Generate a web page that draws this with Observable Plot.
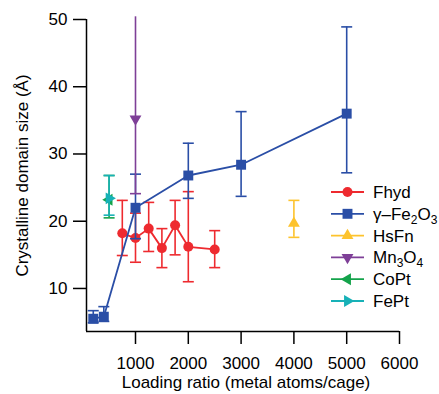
<!DOCTYPE html>
<html>
<head>
<meta charset="utf-8">
<script src="https://cdn.jsdelivr.net/npm/d3@7"></script>
<script src="https://cdn.jsdelivr.net/npm/@observablehq/plot@0.6"></script>
<style>
  html, body { margin: 0; padding: 0; background: #fff; }
  #wrap { position: relative; width: 439px; height: 394px; font-family: "Liberation Sans", Arial, Helvetica, sans-serif; }
  #legend { position: absolute; left: 0; top: 0; }
</style>
</head>
<body>
<div id="wrap"></div>
<script>
// ---- data ----
const fhydX  = [750, 1000, 1250, 1500, 1750, 2000, 2500];
const fhydY  = [18.2, 17.5, 18.9, 16.0, 19.4, 16.2, 15.8];
const fhydLo = [14.9, 13.9, 15.5, 13.1, 15.0, 11.0, 13.1];
const fhydHi = [23.1, 21.2, 22.8, 18.9, 23.1, 24.4, 18.6];

const feX  = [200, 400, 1000, 2000, 3000, 5000];
const feY  = [5.5, 5.8, 22.0, 26.8, 28.4, 36.0];
const feLo = [4.9, 5.1, 17.4, 23.4, 23.7, 27.2];
const feHi = [6.7, 7.3, 27.0, 31.6, 36.3, 48.9];

const hsX = [4000], hsY = [19.7], hsLo = [17.6], hsHi = [23.1];
const mnX = [1000], mnY = [35.2], mnLo = [24.1], mnHi = [50.4];
const coX = [500],  coY = [23.2], coLo = [20.5], coHi = [26.8];
const ptX = [500],  ptY = [23.4], ptLo = [20.9], ptHi = [26.8];

const xTicks = [1000, 2000, 3000, 4000, 5000, 6000];
const yTicks = [10, 20, 30, 40, 50];
const xDomain = [72, 6000];
const yDomain = [3.6, 50];

const seriesNames = ["Fhyd", "γ–Fe2O3", "HsFn", "Mn3O4", "CoPt", "FePt"];
const seriesColors = ["#ee2a2f", "#2a4ea6", "#fdc32d", "#7e3f97", "#14a34b", "#17b1b7"];
const seriesSymbols = ["circle", "square", "triangle", "triangle", "triangle", "triangle"];
const seriesRotate = [0, 0, 0, 180, -90, 90];
const seriesR = [5, 5.6, 4.4, 4.4, 4.4, 4.4];

// ---- build rows ----
function rows(xs, ys, lo, hi) { return xs.map((x, i) => ({x, y: ys[i], lo: lo[i], hi: hi[i]})); }
const sets = [
  rows(fhydX, fhydY, fhydLo, fhydHi),
  rows(feX, feY, feLo, feHi),
  rows(hsX, hsY, hsLo, hsHi),
  rows(mnX, mnY, mnLo, mnHi),
  rows(coX, coY, coLo, coHi),
  rows(ptX, ptY, ptLo, ptHi)
];

const capSymbol = { draw(ctx) { ctx.moveTo(-5.5, 0); ctx.lineTo(5.5, 0); } };
const font = '"Liberation Sans", Arial, Helvetica, sans-serif';
const FS = 17;

const marks = [];
sets.forEach((data, i) => {
  const color = seriesColors[i];
  const top = yDomain[1];
  marks.push(Plot.ruleX(data, {x: "x", y1: "lo", y2: "hi", stroke: color, strokeWidth: 1.6}));
  marks.push(Plot.dot(data, {x: "x", y: "lo", symbol: capSymbol, r: 3, stroke: color, fill: "none", strokeWidth: 1.6}));
  marks.push(Plot.dot(data.filter(d => d.hi <= top), {x: "x", y: "hi", symbol: capSymbol, r: 3, stroke: color, fill: "none", strokeWidth: 1.6}));
  if (data.length > 1) marks.push(Plot.line(data, {x: "x", y: "y", stroke: color, strokeWidth: 1.8}));
  marks.push(Plot.dot(data, {x: "x", y: "y", symbol: seriesSymbols[i], r: seriesR[i], rotate: seriesRotate[i], fill: color, stroke: "none"}));
});

const chart = Plot.plot({
  width: 439,
  height: 394,
  marginLeft: 86,
  marginRight: 40,
  marginTop: 19,
  marginBottom: 63,
  style: {fontFamily: font, fontSize: FS + "px", color: "#000", background: "#fff", overflow: "visible"},
  x: {domain: xDomain},
  y: {domain: yDomain},
  marks: [
    Plot.axisX({ticks: xTicks, tickSize: 13, tickPadding: 12, tickFormat: d => String(d), fontSize: FS, strokeWidth: 1.5, label: null}),
    Plot.axisY({ticks: yTicks, tickSize: 13, tickPadding: 6, tickFormat: d => String(d), fontSize: FS, strokeWidth: 1.5, label: null}),
    Plot.ruleX([xDomain[0]], {y1: yDomain[0], y2: yDomain[1], stroke: "#000", strokeWidth: 1.5}),
    Plot.ruleY([yDomain[0]], {x1: xDomain[0], x2: 6000, stroke: "#000", strokeWidth: 1.5}),
    ...marks,
    Plot.text(["Loading ratio (metal atoms/cage)"], {frameAnchor: "bottom", dx: 3, dy: 51, fontSize: FS, lineAnchor: "middle", fill: "#000"}),
    Plot.text(["Crystalline domain size (Å)"], {frameAnchor: "left", dx: -64, rotate: -90, textAnchor: "middle", lineAnchor: "middle", fontSize: FS, fill: "#000"})
  ]
});

const wrap = document.getElementById("wrap");
wrap.appendChild(chart);

// ---- legend overlay ----
const leg = d3.select(wrap).append("svg")
  .attr("id", "legend").attr("width", 439).attr("height", 394)
  .style("font-family", font);
const lx0 = 331, lx1 = 364, lmx = 347.5, ltx = 373, ly0 = 192, lstep = 21.8;
seriesNames.forEach((name, i) => {
  const y = ly0 + i * lstep;
  const g = leg.append("g");
  g.append("line").attr("x1", lx0).attr("x2", lx1).attr("y1", y).attr("y2", y)
    .attr("stroke", seriesColors[i]).attr("stroke-width", 1.8);
  const symType = seriesSymbols[i] === "circle" ? d3.symbolCircle : seriesSymbols[i] === "square" ? d3.symbolSquare : d3.symbolTriangle;
  g.append("path").attr("d", d3.symbol(symType, Math.PI * seriesR[i] * seriesR[i])())
    .attr("transform", `translate(${lmx},${y}) rotate(${seriesRotate[i]})`)
    .attr("fill", seriesColors[i]);
  const t = g.append("text").attr("x", ltx).attr("y", y).attr("dy", "0.35em")
    .attr("font-size", FS).attr("fill", "#000");
  const parts = name.match(/[^0-9]+|[0-9]+/g);
  let shifted = false;
  parts.forEach(p => {
    if (/^[0-9]+$/.test(p)) {
      t.append("tspan").attr("font-size", 12).attr("dy", 4).text(p);
      shifted = true;
    } else {
      const s = t.append("tspan").text(p);
      if (shifted) { s.attr("dy", -4); shifted = false; }
    }
  });
});
</script>
</body>
</html>
